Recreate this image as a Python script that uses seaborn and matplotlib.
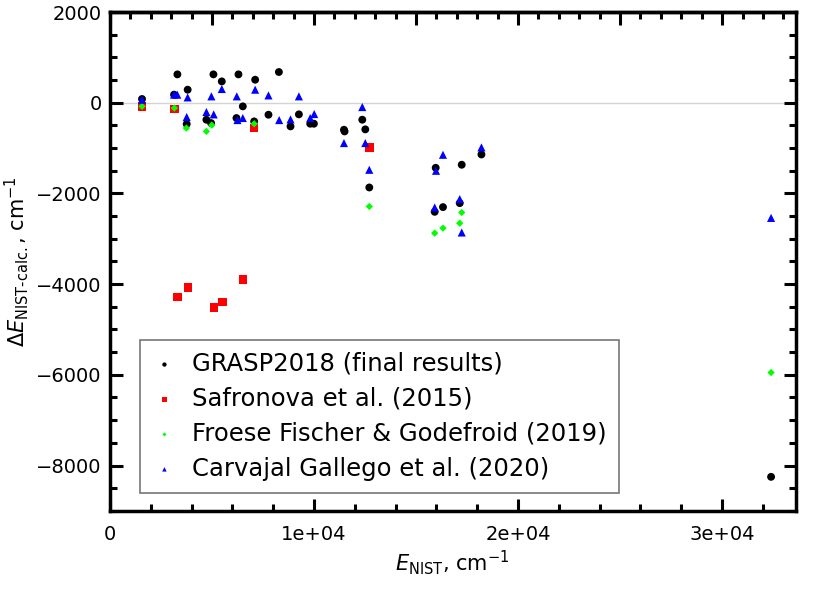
import numpy as np
import pandas as pd
import matplotlib
matplotlib.use('Agg')
import matplotlib.pyplot as plt
import seaborn as sns
from matplotlib.ticker import MultipleLocator, FixedLocator, FixedFormatter

# GRASP2018 (final results)
grasp_x = [1570, 3140, 3304, 3807, 3760, 4726, 4956, 5070, 5480, 6297, 6510, 6199, 7115, 7066,
           7768, 8278, 8848, 9259, 9814, 9994, 11468, 11498, 12366, 12513, 12709, 15914, 15963,
           16321, 17141, 17239, 18205, 32400]
grasp_y = [82, 177, 625, 287, -470, -375, -449, 625, 470, 625, -81, -338, 507, -412,
           -265, 677, -522, -257, -463, -463, -596, -633, -375, -588, -1869, -2406, -1435,
           -2302, -2214, -1368, -1141, -8250]

# Safronova et al. (2015)
safr_x = [1570, 3157, 3320, 3828, 5103, 5512, 6526, 7066, 12726]
safr_y = [-81, -140, -4288, -4076, -4518, -4399, -3899, -559, -993]

# Froese Fischer & Godefroid (2019)
ffg_x = [1570, 3157, 3745, 4726, 4990, 7066, 12709, 15914, 16321, 17141, 17239, 32400]
ffg_y = [-81, -118, -559, -632, -493, -464, -2288, -2876, -2766, -2656, -2421, -5950]

# Carvajal Gallego et al. (2020)
cg_x = [1570, 3140, 3300, 3807, 3760, 4726, 4970, 5083, 5480, 6215, 6248, 6510, 7115, 7768,
        8293, 8848, 9259, 9814, 10010, 11468, 12366, 12513, 12709, 15914, 15980, 16321, 17141,
        17239, 18205, 32400]
cg_y = [66, 177, 177, 117, -316, -206, 140, -258, 302, 140, -383, -338, 287, 161,
        -383, -368, 140, -338, -250, -890, -96, -890, -1479, -2310, -1501, -1148, -2125,
        -2862, -986, -2540]

labels = ['GRASP2018 (final results)', 'Safronova et al. (2015)',
          'Froese Fischer & Godefroid (2019)', 'Carvajal Gallego et al. (2020)']
xtick_vals = [0, 10000, 20000, 30000]
xtick_text = ['0', '1e+04', '2e+04', '3e+04']

sns.set_style('white')
plt.rcParams['font.family'] = ['DejaVu Sans']
plt.rcParams['mathtext.fontset'] = 'dejavusans'
plt.rcParams['text.color'] = 'black'
plt.rcParams['axes.labelcolor'] = 'black'
plt.rcParams['xtick.color'] = 'black'
plt.rcParams['ytick.color'] = 'black'

series = [(grasp_x, grasp_y, 'black', 'o', 32),
          (safr_x, safr_y, 'red', 's', 38),
          (ffg_x, ffg_y, '#00ff00', 'D', 14),
          (cg_x, cg_y, 'blue', '^', 34)]

fig = plt.figure(figsize=(8.30, 6.01), dpi=100)
ax = fig.add_axes([0.1325, 0.150, 0.826, 0.830])
ax.axhline(0, color='#d3d3d3', lw=1, zorder=0)

for (xs, ys, col, mk, sz), lab in zip(series, labels):
    d = pd.DataFrame({'E': xs, 'dE': ys})
    sns.scatterplot(data=d, x='E', y='dE', color=col, marker=mk, s=sz,
                    edgecolor='none', linewidth=0, label=lab, ax=ax)

ax.set_xlim(0, 33600)
ax.set_ylim(-9000, 2000)
ax.xaxis.set_major_locator(FixedLocator(xtick_vals))
ax.xaxis.set_major_formatter(FixedFormatter(xtick_text))
ax.xaxis.set_minor_locator(MultipleLocator(2000))
ax.yaxis.set_major_locator(MultipleLocator(2000))
ax.yaxis.set_minor_locator(MultipleLocator(500))
ax.tick_params(axis='both', which='both', direction='in', labelsize=14, width=2.2,
               left=True, bottom=True, colors='black')
ax.tick_params(axis='y', which='major', length=9, pad=6)
ax.tick_params(axis='x', which='major', length=9, pad=10)
ax.tick_params(axis='both', which='minor', length=5)
ax.tick_params(axis='y', which='both', right=True)

top = ax.secondary_xaxis('top')
top.xaxis.set_major_locator(MultipleLocator(5000))
top.xaxis.set_minor_locator(MultipleLocator(1000))
top.tick_params(which='both', direction='in', labeltop=False, width=2.2, colors='black')
top.tick_params(which='major', length=9)
top.tick_params(which='minor', length=5)
top.spines['top'].set_linewidth(2.5)

for sp in ax.spines.values():
    sp.set_linewidth(2.5)
    sp.set_color('black')

ax.set_xlabel(r'$\mathit{E}_{\mathrm{NIST}}$, cm$^{-1}$', fontsize=15, labelpad=3)
ax.set_ylabel('$\\mathit{\\Delta E}_{\\mathrm{NIST\u2010calc.}}$, cm$^{-1}$', fontsize=15,
              labelpad=4)

leg = ax.legend(loc='lower left', bbox_to_anchor=(0.044, 0.036), borderaxespad=0,
                fontsize=17.5, markerscale=0.55, frameon=True, fancybox=False,
                borderpad=0.5, handletextpad=0.65, labelspacing=0.45, handlelength=1.0)
leg.get_frame().set_edgecolor('#555555')
leg.get_frame().set_linewidth(1.2)
for t in leg.get_texts():
    t.set_color('black')

fig.savefig('out.png', dpi=100)
